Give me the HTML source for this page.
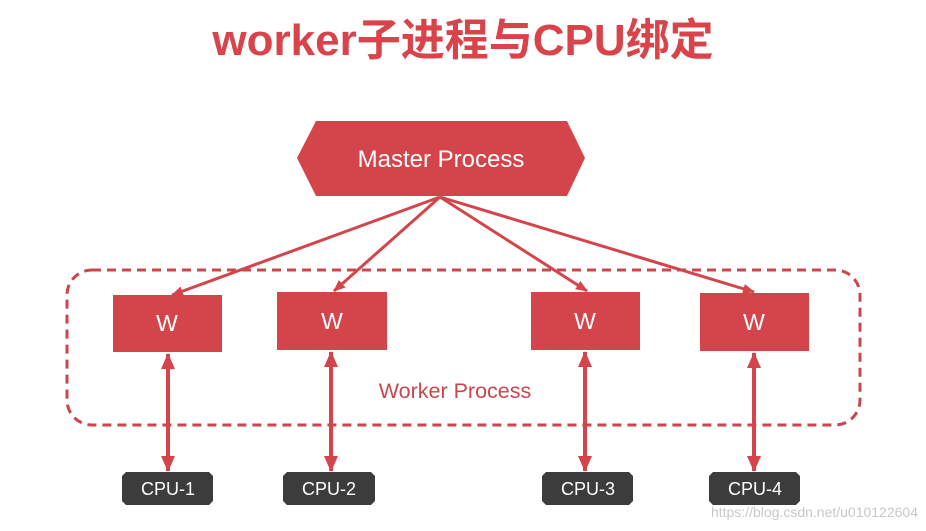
<!DOCTYPE html>
<html><head><meta charset="utf-8"><style>
body{margin:0;width:926px;height:531px;background:#fff;overflow:hidden}
</style></head><body>
<svg width="926" height="531" xmlns="http://www.w3.org/2000/svg" style="position:absolute;left:0;top:0">
<defs>
<marker id="a" markerWidth="12" markerHeight="10" refX="11" refY="5" orient="auto" markerUnits="userSpaceOnUse"><path d="M0,0 L12,5 L0,10 z" fill="#d4454b"/></marker>
<marker id="b" markerWidth="16" markerHeight="14" refX="15" refY="7" orient="auto-start-reverse" markerUnits="userSpaceOnUse"><path d="M0,0 L16,7 L0,14 z" fill="#d4454b"/></marker>
</defs>
<text x="463" y="55" text-anchor="middle" font-family="Liberation Sans, Noto Sans CJK SC, sans-serif" font-size="44" font-weight="bold" fill="#d9434a">worker子进程与CPU绑定</text>
<rect x="67" y="270" width="793" height="155" rx="25" fill="none" stroke="#c9474c" stroke-width="3" stroke-dasharray="9,6"/>
<polygon points="297,158 316,121 567,121 585,158 567,196 316,196" fill="#d4454b"/>
<text x="441" y="167" text-anchor="middle" font-family="Liberation Sans, sans-serif" font-size="24" fill="#fff">Master Process</text>
<g stroke="#d4454b" stroke-width="3" marker-end="url(#a)">
<line x1="440" y1="197" x2="172" y2="295"/>
<line x1="440" y1="197" x2="334" y2="291"/>
<line x1="440" y1="197" x2="587" y2="291"/>
<line x1="440" y1="197" x2="754" y2="292"/>
</g>
<g fill="#d4454b">
<rect x="113" y="295" width="109" height="57"/>
<rect x="277" y="292" width="110" height="58"/>
<rect x="531" y="292" width="109" height="58"/>
<rect x="700" y="293" width="109" height="58"/>
</g>
<g font-family="Liberation Sans, sans-serif" font-size="23" fill="#fff" text-anchor="middle">
<text x="167" y="331">W</text><text x="332" y="329">W</text><text x="585" y="329">W</text><text x="754" y="330">W</text>
</g>
<text x="455" y="398" text-anchor="middle" font-family="Liberation Sans, sans-serif" font-size="21.5" fill="#c9474c">Worker Process</text>
<g stroke="#d4454b" stroke-width="4" marker-start="url(#b)" marker-end="url(#b)">
<line x1="168" y1="354" x2="168" y2="471"/>
<line x1="331" y1="352" x2="331" y2="471"/>
<line x1="585" y1="352" x2="585" y2="471"/>
<line x1="754" y1="353" x2="754" y2="471"/>
</g>
<g fill="#3c3c3c">
<polygon points="126,472 209,472 213,476 213,501 209,505 126,505 122,501 122,476"/>
<polygon points="287,472 371,472 375,476 375,501 371,505 287,505 283,501 283,476"/>
<polygon points="546,472 629,472 633,476 633,501 629,505 546,505 542,501 542,476"/>
<polygon points="713,472 796,472 800,476 800,501 796,505 713,505 709,501 709,476"/>
</g>
<g font-family="Liberation Sans, sans-serif" font-size="18" fill="#fff" text-anchor="middle">
<text x="168" y="495">CPU-1</text><text x="329" y="495">CPU-2</text><text x="588" y="495">CPU-3</text><text x="755" y="495">CPU-4</text>
</g>
<text x="918" y="517" text-anchor="end" font-family="Liberation Sans, sans-serif" font-size="14" fill="#c8c8c8">https://blog.csdn.net/u010122604</text>
</svg>
</body></html>
